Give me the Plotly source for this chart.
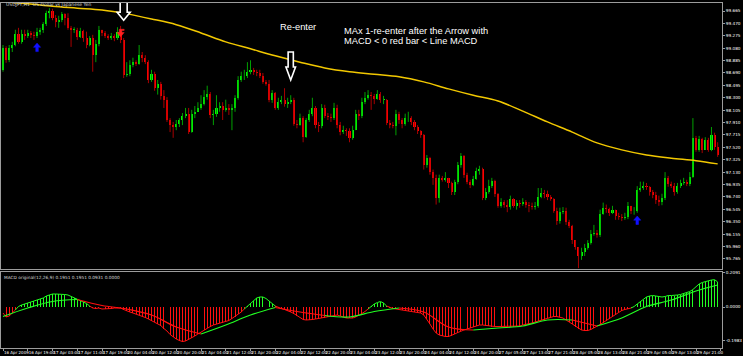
import plotly.graph_objects as go

# ---------------- data (USDJPY H1) ----------------
first_open = 98.74
close = [
    99.08, 98.89, 99.08, 99.13, 99.30, 99.18, 99.30, 99.27,
    99.32, 99.29, 99.27, 99.34, 99.37, 99.46, 99.63, 99.67,
    99.55, 99.49, 99.52, 99.62, 99.55, 99.40, 99.37, 99.37,
    99.26, 99.35, 99.24, 99.13, 99.24, 98.97, 99.15, 99.37,
    99.32, 99.27, 99.24, 99.27, 99.24, 99.34, 99.21, 98.66,
    98.67, 98.82, 98.86, 98.83, 98.97, 98.93, 98.86, 98.58,
    98.67, 98.45, 98.52, 98.33, 98.27, 97.95, 97.87, 97.84,
    97.89, 97.95, 98.01, 98.04, 97.76, 98.04, 98.08, 98.14,
    98.20, 98.31, 98.36, 98.03, 98.04, 98.14, 98.17, 98.11,
    98.14, 98.11, 98.14, 98.30, 98.58, 98.64, 98.64, 98.71,
    98.74, 98.71, 98.69, 98.64, 98.55, 98.52, 98.27, 98.38,
    98.14, 98.23, 98.27, 98.20, 98.23, 98.27, 97.89, 97.87,
    97.98, 97.68, 97.95, 98.04, 98.14, 97.87, 97.86, 98.14,
    98.01, 98.00, 97.98, 98.14, 97.87, 97.76, 97.79, 97.78,
    97.67, 97.79, 98.04, 98.01, 98.23, 98.30, 98.34, 98.33,
    98.28, 98.36, 98.27, 98.27, 97.90, 97.87, 97.86, 98.04,
    97.95, 97.89, 97.98, 97.98, 97.92, 97.84, 97.78, 97.71,
    97.24, 97.35, 97.13, 97.04, 96.72, 97.04, 97.01, 97.04,
    96.96, 96.82, 96.98, 97.24, 97.38, 97.09, 96.98, 96.93,
    97.02, 97.15, 97.18, 96.72, 96.82, 96.91, 96.99, 96.79,
    96.60, 96.66, 96.62, 96.58, 96.71, 96.60, 96.65, 96.63,
    96.66, 96.62, 96.60, 96.58, 96.60, 96.74, 96.80, 96.79,
    96.74, 96.71, 96.52, 96.36, 96.50, 96.52, 96.35, 96.28,
    96.06, 95.95, 95.81, 95.87, 95.94, 96.02, 96.16, 96.17,
    96.14, 96.47, 96.57, 96.55, 96.49, 96.54, 96.44, 96.43,
    96.41, 96.43, 96.60, 96.52, 96.52, 96.85, 96.88, 96.91,
    96.90, 96.82, 96.77, 96.69, 96.66, 96.72, 97.04, 96.94,
    96.91, 96.82, 96.91, 96.96, 96.98, 96.94, 97.05, 97.67,
    97.48, 97.65, 97.48, 97.64, 97.48, 97.71, 97.53, 97.40,
]
high = [
    99.13, 99.11, 99.13, 99.18, 99.37, 99.40, 99.37, 99.37,
    99.37, 99.35, 99.34, 99.40, 99.40, 99.49, 99.67, 99.71,
    99.70, 99.60, 99.59, 99.65, 99.63, 99.63, 99.43, 99.41,
    99.40, 99.40, 99.37, 99.34, 99.27, 99.29, 99.21, 99.43,
    99.37, 99.35, 99.30, 99.32, 99.30, 99.41, 99.43, 99.24,
    98.86, 98.89, 98.93, 98.89, 99.13, 99.02, 98.97, 98.89,
    98.74, 98.71, 98.58, 98.55, 98.42, 98.31, 97.98, 97.92,
    97.95, 97.98, 98.06, 98.14, 98.14, 98.11, 98.17, 98.23,
    98.34, 98.42, 98.49, 98.39, 98.11, 98.34, 98.23, 98.23,
    98.27, 98.20, 98.20, 98.34, 98.64, 98.71, 98.74, 98.86,
    98.89, 98.77, 98.74, 98.74, 98.69, 98.58, 98.58, 98.42,
    98.39, 98.30, 98.33, 98.45, 98.30, 98.34, 98.30, 97.95,
    98.05, 98.01, 97.98, 98.11, 98.30, 98.17, 97.92, 98.20,
    98.19, 98.06, 98.05, 98.22, 98.19, 97.92, 97.86, 97.82,
    97.82, 97.86, 98.11, 98.11, 98.30, 98.39, 98.42, 98.39,
    98.36, 98.42, 98.39, 98.33, 98.28, 97.95, 97.92, 98.11,
    98.08, 97.98, 98.05, 98.08, 98.01, 97.95, 97.87, 97.79,
    97.73, 97.40, 97.37, 97.17, 97.09, 97.09, 97.07, 97.13,
    97.04, 96.98, 97.01, 97.29, 97.43, 97.40, 97.12, 97.01,
    97.07, 97.20, 97.23, 97.20, 96.88, 97.01, 97.04, 97.01,
    96.80, 96.72, 96.69, 96.69, 96.76, 96.72, 96.69, 96.69,
    96.72, 96.69, 96.66, 96.65, 96.66, 96.88, 96.88, 96.85,
    96.84, 96.77, 96.72, 96.57, 96.57, 96.58, 96.57, 96.38,
    96.30, 96.06, 95.95, 95.94, 96.00, 96.06, 96.22, 96.30,
    96.22, 96.54, 96.65, 96.62, 96.57, 96.60, 96.54, 96.49,
    96.47, 96.49, 96.66, 96.60, 96.58, 96.91, 96.98, 96.98,
    96.96, 96.91, 96.85, 96.82, 96.76, 96.79, 97.13, 97.07,
    96.98, 96.96, 96.96, 97.01, 97.04, 97.01, 97.13, 97.98,
    97.70, 97.70, 97.67, 97.68, 97.67, 97.84, 97.75, 97.60,
]
low = [
    98.71, 98.85, 98.86, 99.02, 99.11, 99.15, 99.15, 99.21,
    99.24, 99.24, 99.21, 99.24, 99.29, 99.32, 99.43, 99.55,
    99.52, 99.41, 99.40, 99.49, 99.44, 99.37, 99.10, 99.32,
    99.21, 99.24, 99.18, 99.08, 99.11, 98.71, 98.86, 99.11,
    99.27, 99.24, 99.21, 99.21, 99.19, 99.21, 99.16, 98.61,
    98.63, 98.64, 98.78, 98.80, 98.82, 98.86, 98.83, 98.53,
    98.55, 98.41, 98.35, 98.27, 98.14, 97.92, 97.76, 97.67,
    97.79, 97.84, 97.87, 97.98, 97.73, 97.75, 97.98, 98.08,
    98.11, 98.18, 98.27, 97.98, 97.87, 98.00, 98.08, 97.95,
    98.08, 98.03, 97.79, 98.08, 98.27, 98.55, 98.58, 98.61,
    98.67, 98.66, 98.64, 98.61, 98.52, 98.49, 98.23, 98.22,
    98.11, 98.11, 98.20, 98.16, 98.14, 98.20, 97.86, 97.82,
    97.86, 97.60, 97.67, 97.92, 98.01, 97.82, 97.76, 97.82,
    97.98, 97.95, 97.92, 97.95, 97.82, 97.71, 97.73, 97.70,
    97.60, 97.64, 97.79, 97.95, 97.98, 98.20, 98.27, 98.11,
    98.20, 98.27, 98.22, 98.20, 97.87, 97.82, 97.82, 97.71,
    97.89, 97.82, 97.86, 97.92, 97.87, 97.79, 97.73, 97.67,
    97.17, 97.20, 97.09, 96.93, 96.62, 96.65, 96.98, 96.98,
    96.88, 96.77, 96.77, 96.94, 97.20, 97.04, 96.94, 96.88,
    96.91, 97.01, 97.09, 96.69, 96.69, 96.79, 96.88, 96.74,
    96.57, 96.57, 96.57, 96.50, 96.54, 96.57, 96.54, 96.57,
    96.60, 96.57, 96.50, 96.54, 96.54, 96.57, 96.72, 96.72,
    96.69, 96.68, 96.49, 96.30, 96.32, 96.47, 96.30, 96.25,
    96.00, 95.91, 95.62, 95.75, 95.81, 95.91, 95.99, 96.13,
    96.10, 96.11, 96.46, 96.49, 96.44, 96.47, 96.38, 96.38,
    96.36, 96.38, 96.39, 96.47, 96.46, 96.49, 96.82, 96.85,
    96.85, 96.76, 96.72, 96.63, 96.60, 96.61, 96.69, 96.90,
    96.88, 96.76, 96.79, 96.88, 96.93, 96.91, 96.91, 97.04,
    97.45, 97.45, 97.43, 97.48, 97.45, 97.46, 97.48, 97.37,
]
macd = [
    -0.036, -0.060, -0.054, -0.036, -0.018, 0.003, 0.012, 0.018,
    0.024, 0.030, 0.036, 0.042, 0.048, 0.054, 0.066, 0.072,
    0.078, 0.078, 0.078, 0.075, 0.075, 0.072, 0.063, 0.057,
    0.045, 0.038, 0.030, 0.021, 0.006, -0.006, -0.009, -0.006,
    -0.012, -0.012, -0.009, -0.009, -0.006, -0.005, -0.006, -0.015,
    -0.024, -0.030, -0.036, -0.042, -0.048, -0.057, -0.063, -0.072,
    -0.081, -0.090, -0.099, -0.111, -0.129, -0.144, -0.165, -0.180,
    -0.192, -0.201, -0.207, -0.204, -0.195, -0.183, -0.174, -0.162,
    -0.150, -0.138, -0.126, -0.117, -0.108, -0.102, -0.096, -0.093,
    -0.087, -0.081, -0.069, -0.057, -0.042, -0.030, -0.012, 0.006,
    0.024, 0.039, 0.054, 0.060, 0.060, 0.051, 0.036, 0.021,
    0.006, -0.003, -0.009, -0.015, -0.021, -0.030, -0.039, -0.051,
    -0.063, -0.075, -0.078, -0.078, -0.075, -0.072, -0.069, -0.066,
    -0.063, -0.057, -0.054, -0.051, -0.048, -0.054, -0.060, -0.066,
    -0.066, -0.066, -0.060, -0.051, -0.039, -0.027, -0.012, 0.006,
    0.018, 0.027, 0.033, 0.024, 0.006, -0.003, -0.009, -0.012,
    -0.015, -0.018, -0.021, -0.022, -0.024, -0.027, -0.031, -0.036,
    -0.048, -0.072, -0.102, -0.132, -0.156, -0.168, -0.174, -0.177,
    -0.177, -0.171, -0.162, -0.153, -0.144, -0.138, -0.132, -0.126,
    -0.120, -0.114, -0.108, -0.108, -0.111, -0.114, -0.117, -0.117,
    -0.117, -0.117, -0.117, -0.117, -0.117, -0.117, -0.116, -0.114,
    -0.108, -0.105, -0.102, -0.096, -0.090, -0.084, -0.078, -0.075,
    -0.066, -0.060, -0.057, -0.057, -0.060, -0.066, -0.078, -0.090,
    -0.102, -0.117, -0.129, -0.138, -0.141, -0.141, -0.135, -0.126,
    -0.114, -0.105, -0.093, -0.081, -0.069, -0.057, -0.045, -0.030,
    -0.021, -0.015, -0.009, -0.006, 0.003, 0.018, 0.033, 0.045,
    0.060, 0.066, 0.069, 0.066, 0.063, 0.060, 0.063, 0.069,
    0.069, 0.069, 0.072, 0.075, 0.081, 0.087, 0.093, 0.105,
    0.120, 0.138, 0.147, 0.153, 0.159, 0.162, 0.164, 0.150,
]
line_bars = list(range(0, 232, 8)) + [231]
signal = [
    -0.057, -0.006, 0.033, 0.045, 0.009, -0.012, -0.048, -0.120,
    -0.162, -0.108, -0.048, -0.003, -0.030, -0.051, -0.060, -0.027,
    -0.006, -0.030, -0.120, -0.138, -0.126, -0.114, -0.078, -0.078,
    -0.114, -0.066, 0.003, 0.042, 0.096, 0.132,
]
ma = [
    99.81, 99.78, 99.74, 99.71, 99.68, 99.62, 99.54, 99.45,
    99.32, 99.18, 99.07, 98.96, 98.86, 98.77, 98.71, 98.67,
    98.63, 98.55, 98.44, 98.34, 98.25, 98.09, 97.92, 97.76,
    97.59, 97.48, 97.40, 97.35, 97.31, 97.26,
]
price_ticks = [99.665, 99.470, 99.275, 99.080, 98.885, 98.690, 98.495,
               98.300, 98.105, 97.910, 97.715, 97.520, 97.325, 97.130,
               96.935, 96.740, 96.545, 96.350, 96.155, 95.960, 95.765]
macd_ticks = [0.2091, 0.0, -0.1983]
time_labels = [
    "16 Apr 2009", "16 Apr 19:00", "17 Apr 03:00", "17 Apr 11:00", "17 Apr 19:00",
    "20 Apr 04:00", "20 Apr 12:00", "20 Apr 20:00", "21 Apr 04:00", "21 Apr 12:00",
    "21 Apr 20:00", "22 Apr 04:00", "22 Apr 12:00", "22 Apr 20:00", "23 Apr 04:00",
    "23 Apr 12:00", "23 Apr 20:00", "24 Apr 04:00", "24 Apr 12:00", "24 Apr 20:00",
    "27 Apr 05:00", "27 Apr 13:00", "27 Apr 21:00", "28 Apr 05:00", "28 Apr 13:00",
    "28 Apr 21:00", "29 Apr 05:00", "29 Apr 13:00", "29 Apr 21:00", "30 Apr 05:00",
]
buy_bars, buy_prices = [11, 205], [99.16, 96.44]
sell_bars, sell_prices = [38], [99.26]
reenter_bars, reenter_prices = [39, 93], [99.52, 98.58]

# ---------------- derived ----------------
n = len(close)
idx = list(range(n))
opens = [first_open] + close[:-1]
bull = [close[i] >= opens[i] for i in idx]

BULL_BODY, BULL_WICK = "#00ff00", "#00a000"
BEAR_BODY, BEAR_WICK = "#ff0000", "#a80000"
GREEN, RED = "#22ff22", "#ff1010"

fig = go.Figure()

# wicks
for is_bull, col in [(True, BULL_WICK), (False, BEAR_WICK)]:
    xs, ys = [], []
    for i in idx:
        if bull[i] == is_bull:
            xs += [i, i, None]
            ys += [low[i], high[i], None]
    fig.add_trace(go.Scatter(x=xs, y=ys, mode="lines", line=dict(color=col, width=1),
                             hoverinfo="skip", showlegend=False, xaxis="x", yaxis="y"))

# bodies
fig.add_trace(go.Bar(
    x=idx, y=[max(abs(close[i] - opens[i]), 0.006) for i in idx],
    base=[min(close[i], opens[i]) for i in idx], width=0.66,
    marker=dict(color=[BULL_BODY if b else BEAR_BODY for b in bull], line=dict(width=0)),
    showlegend=False, xaxis="x", yaxis="y"))

# moving average
fig.add_trace(go.Scatter(x=line_bars, y=ma, mode="lines",
                         line=dict(color="#f2c800", width=1.5, shape="spline", smoothing=1.0),
                         showlegend=False, xaxis="x", yaxis="y"))

# MACD histogram
fig.add_trace(go.Bar(x=idx, y=macd, width=0.3,
                     marker=dict(color=[GREEN if v >= 0 else RED for v in macd], line=dict(width=0)),
                     showlegend=False, xaxis="x2", yaxis="y2"))

# MACD outline coloured by sign
runs, cur = [], [0]
for i in range(1, n):
    if (macd[i] >= 0) == (macd[i - 1] >= 0):
        cur.append(i)
    else:
        runs.append(cur)
        cur = [i - 1, i]
runs.append(cur)
for r in runs:
    col = GREEN if macd[r[-1]] >= 0 else RED
    fig.add_trace(go.Scatter(x=r, y=[macd[i] for i in r], mode="lines",
                             line=dict(color=col, width=1), showlegend=False,
                             xaxis="x2", yaxis="y2"))

# signal line coloured by MACD above / below it
seg_cols = []
for j in range(len(line_bars) - 1):
    m = (line_bars[j] + line_bars[j + 1]) // 2
    s = (signal[j] + signal[j + 1]) / 2
    seg_cols.append(GREEN if macd[m] >= s else RED)
j = 0
while j < len(seg_cols):
    k = j
    while k + 1 < len(seg_cols) and seg_cols[k + 1] == seg_cols[j]:
        k += 1
    fig.add_trace(go.Scatter(x=line_bars[j:k + 2], y=signal[j:k + 2], mode="lines",
                             line=dict(color=seg_cols[j], width=1.2, shape="spline"),
                             showlegend=False, xaxis="x2", yaxis="y2"))
    j = k + 1

# ---------------- arrows (shapes anchored at data points) ----------------
shapes = []


def pshape(xa, ya, path, fill, line_col, lw):
    return dict(type="path", xref="x", yref="y", xsizemode="pixel", ysizemode="pixel",
                xanchor=xa, yanchor=ya, path=path, fillcolor=fill,
                line=dict(color=line_col, width=lw), layer="above")


big = "M 0,0 L -6.5,8 L -3.5,8 L -3.5,34 L 3.5,34 L 3.5,8 L 6.5,8 Z"
small = "M 0,0 L -4.8,13 L -2.6,13 L -2.6,28 L 2.6,28 L 2.6,13 L 4.8,13 Z"
for b, p, path in zip(reenter_bars, reenter_prices, [big, small]):
    shapes.append(pshape(b, p, path, "#000000", "#ffffff", 1.6))
up = "M 0,0 L -3.6,-4.2 L -1.3,-4.2 L -1.3,-8.5 L 1.3,-8.5 L 1.3,-4.2 L 3.6,-4.2 Z"
for b, p in zip(buy_bars, buy_prices):
    shapes.append(pshape(b, p, up, "#1010ff", "#1010ff", 0.5))
down = "M 0,0 L -3.6,4.2 L -1.3,4.2 L -1.3,7.5 L 3.6,7.5 L 3.6,6.3 L 1.3,6.3 L 1.3,4.2 L 3.6,4.2 Z"
for b, p in zip(sell_bars, sell_prices):
    shapes.append(pshape(b, p, down, "#ff2020", "#ff2020", 0.5))

# ---------------- layout ----------------
L, R, T, B = 1, 21, 2, 8
W, H = 743, 356
PH = H - T - B
PW = W - L - R


def px(x):
    return (x - L) / PW


def py(y):
    return (H - B - y) / PH


AX = "#9c9c9c"
axis_common = dict(showgrid=False, zeroline=False, showline=True, mirror=True,
                   linecolor=AX, linewidth=1, automargin=False)

fig.update_layout(
    width=W, height=H, template="none",
    margin=dict(l=L, r=R, t=T, b=B),
    paper_bgcolor="#000000", plot_bgcolor="#000000",
    barmode="overlay", bargap=0, showlegend=False, hovermode=False,
    font=dict(family="DejaVu Sans", color="#ffffff"),
    xaxis=dict(domain=[0, 1], range=[-0.65, 232.4], anchor="y", showticklabels=False,
               ticks="", **axis_common),
    yaxis=dict(domain=[py(269), py(3)], range=[95.606, 99.791], side="right", anchor="x",
               tickvals=price_ticks, ticktext=[f"{v:.3f}" for v in price_ticks],
               tickfont=dict(size=4.2, color="#ffffff"), ticks="outside", ticklen=2,
               tickcolor=AX, **axis_common),
    xaxis2=dict(domain=[0, 1], range=[-0.65, 232.4], anchor="y2", matches="x",
                tickvals=list(range(0, 8 * len(time_labels), 8)), ticktext=time_labels,
                ticklabelposition="outside right", tickfont=dict(size=4, color="#ffffff"),
                ticks="outside", ticklen=2, tickcolor=AX, tickangle=0, **axis_common),
    yaxis2=dict(domain=[0, py(272)], range=[-0.246, 0.21], side="right", anchor="x2",
                tickvals=macd_ticks, ticktext=[f"{v:.4f}" for v in macd_ticks],
                tickfont=dict(size=4.2, color="#ffffff"), ticks="outside", ticklen=2,
                tickcolor=AX, **axis_common),
    shapes=shapes,
)

ann = [
    dict(text="USDJPY,H1  US Dollar vs Japanese Yen", x=px(4), y=py(4.5),
         xanchor="left", yanchor="middle", font=dict(size=4.5, color="#d8d8d8")),
    dict(text="MACD original(12,26,9) 0.1951 0.1951 0.0931 0.0000", x=px(2), y=py(277),
         xanchor="left", yanchor="middle", font=dict(size=4.3, color="#d8d8d8")),
    dict(text="Re-enter", x=px(298), y=py(27.5), xanchor="center", yanchor="middle",
         font=dict(family="Liberation Sans", size=9.3, color="#ffffff")),
    dict(text="MAx 1-re-enter after the Arrow with", x=px(342), y=py(30.8),
         xanchor="left", yanchor="middle",
         font=dict(family="Liberation Sans", size=9.3, color="#ffffff")),
    dict(text="MACD &lt; 0 red bar &lt; Line MACD", x=px(342), y=py(41.2),
         xanchor="left", yanchor="middle",
         font=dict(family="Liberation Sans", size=9.3, color="#ffffff")),
]
for a in ann:
    a.update(xref="paper", yref="paper", showarrow=False)
fig.update_layout(annotations=ann)

fig.write_html("out.html", config={"displayModeBar": False, "staticPlot": True})

# remove the browser's default page margin so the 743x356 figure fills the window
with open("out.html", "r", encoding="utf-8") as f:
    html = f.read()
html = html.replace("<head>", "<head><style>html,body{margin:0;padding:0;overflow:hidden;"
                    "background:#000}</style>", 1)
with open("out.html", "w", encoding="utf-8") as f:
    f.write(html)
